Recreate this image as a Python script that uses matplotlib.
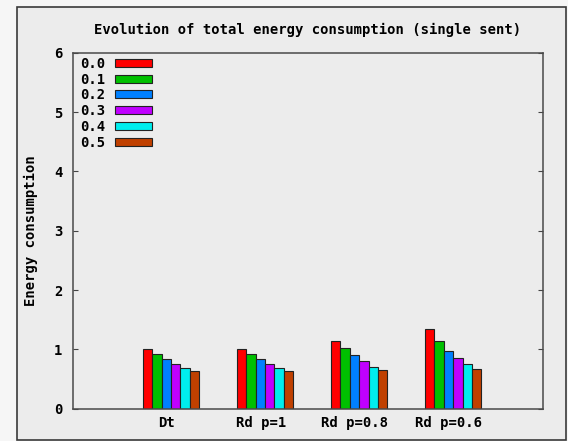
import numpy as np
import matplotlib
matplotlib.use("Agg")
import matplotlib.pyplot as plt
from matplotlib.patches import Rectangle

# data
groups = ["Dt", "Rd p=1", "Rd p=0.8", "Rd p=0.6"]
series = ["0.0", "0.1", "0.2", "0.3", "0.4", "0.5"]
v_00 = [1.000, 1.000, 1.141, 1.343]
v_01 = [0.922, 0.922, 1.018, 1.141]
v_02 = [0.838, 0.838, 0.900, 0.978]
v_03 = [0.754, 0.754, 0.799, 0.855]
v_04 = [0.691, 0.691, 0.708, 0.758]
v_05 = [0.630, 0.630, 0.652, 0.674]
values = [v_00, v_01, v_02, v_03, v_04, v_05]
colors = ["#ff0000", "#00c000", "#0080ff", "#c000ff", "#00eeee", "#c04000"]

plt.rcParams['font.family'] = 'DejaVu Sans Mono'
plt.rcParams['font.weight'] = 'bold'
plt.rcParams['font.size'] = 10

W, H = 568, 441
fig = plt.figure(figsize=(W / 100, H / 100), dpi=100, facecolor='#f6f6f6')
# outer frame round the whole plot
fig.patches.append(Rectangle((16.7/W, 1-440/H), (566-16.7)/W, (440-7.3)/H,
                             transform=fig.transFigure, facecolor='#ececec',
                             edgecolor='#3a3a3a', linewidth=1.2, zorder=-10))
ax = fig.add_axes([72.7/W, 1-408.7/H, (543-72.7)/W, (408.7-52.7)/H])
ax.set_facecolor('#ececec')

x = np.arange(len(groups))
w = 0.1
shift = 0.045
for i, (name, vals) in enumerate(zip(series, values)):
    ax.bar(x + shift + (i - 2.5) * w, vals, w, color=colors[i],
           edgecolor='#222222', linewidth=0.8, label=name)

ax.set_xlim(-1, 4)
ax.set_ylim(0, 6)
ax.set_xticks(x)
ax.set_xticklabels(groups, fontweight='bold')
ax.tick_params(axis='x', length=0, pad=5.5)
ax.set_yticks(range(7))
ax.set_yticklabels([str(v) for v in range(7)], fontweight='bold')
ax.tick_params(axis='y', direction='in', length=3.4, right=True, pad=7.5,
               color='#444444')
for s in ax.spines.values():
    s.set_color('#4a4a4a')
    s.set_linewidth(1.1)

ax.set_ylabel('Energy consumption', fontweight='bold')
ax.yaxis.set_label_coords(-0.0738, 0.5)
fig.text(308/W, 1-30/H, 'Evolution of total energy consumption (single sent)',
         ha='center', va='center', fontweight='bold')

ax.legend(loc='upper left', frameon=False, markerfirst=False,
          handlelength=2.7, handleheight=0.5, labelspacing=0.13,
          handletextpad=0.72, borderaxespad=0, borderpad=0,
          bbox_to_anchor=(0.015, 0.9886))

fig.savefig('out.png', dpi=100, facecolor=fig.get_facecolor())
